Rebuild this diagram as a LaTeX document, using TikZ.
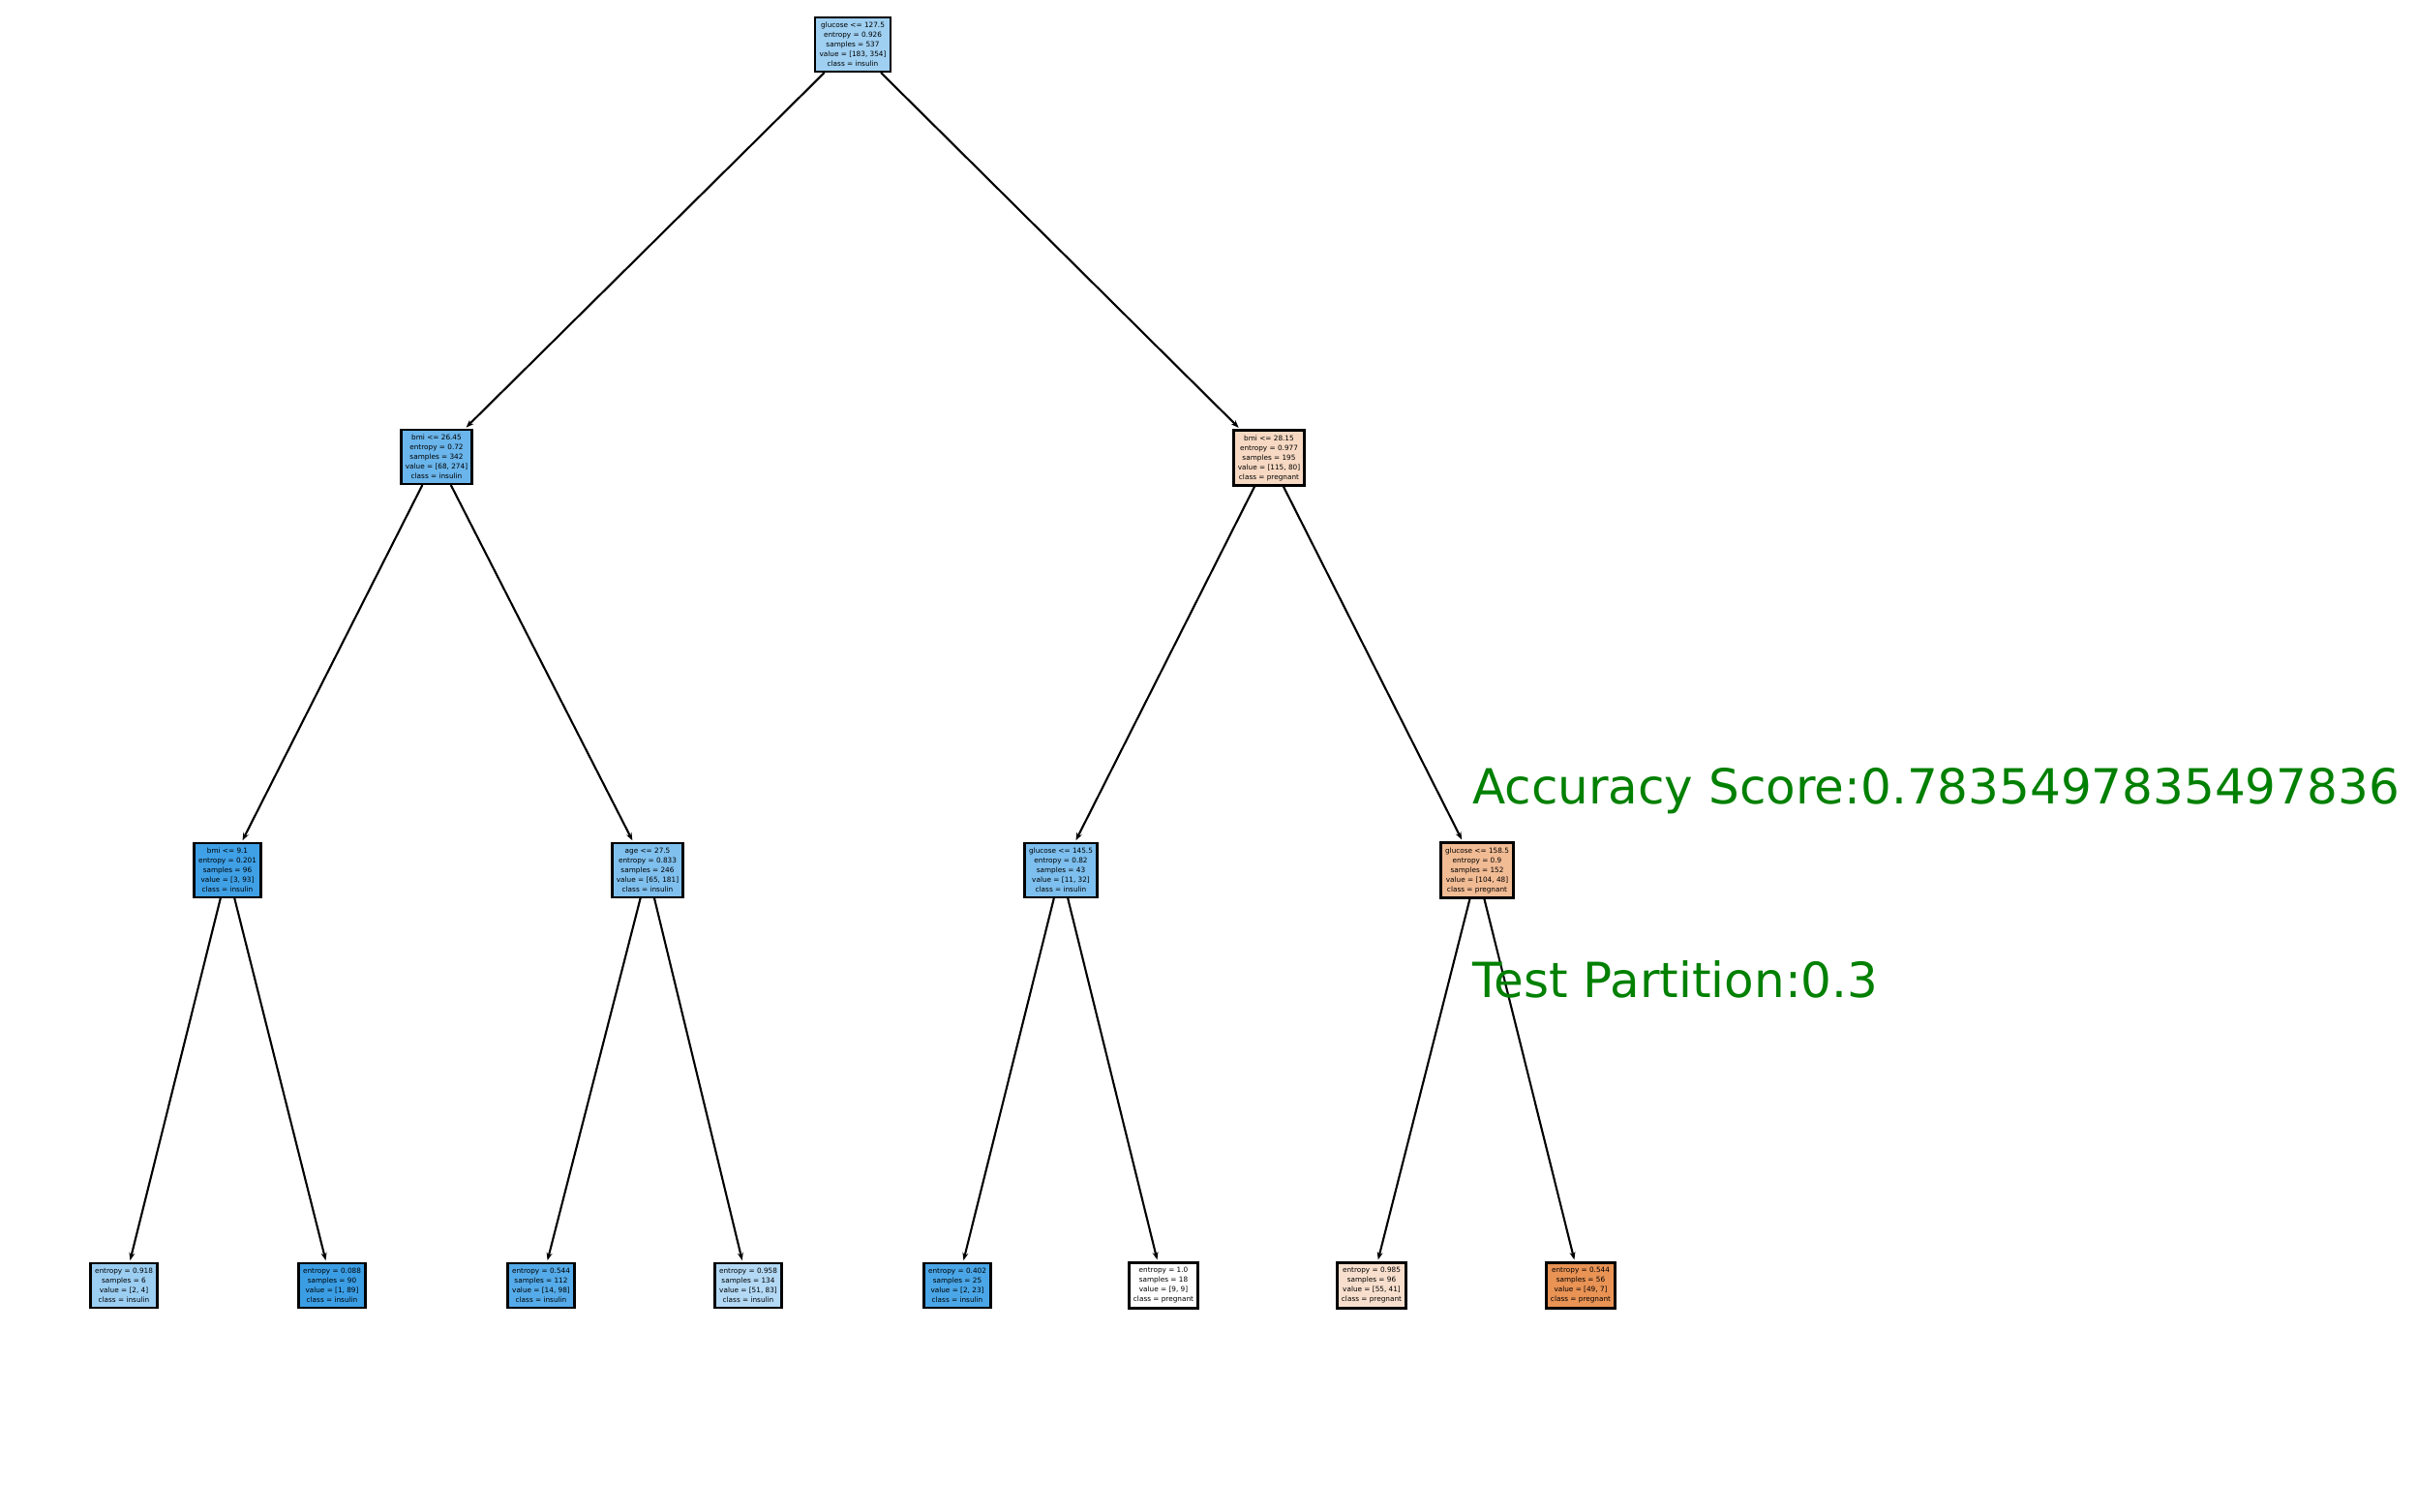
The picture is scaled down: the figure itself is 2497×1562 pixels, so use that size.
\documentclass[tikz,border=0pt]{standalone}
\usepackage{fontspec}
\setmainfont{DejaVu Sans}
\usetikzlibrary{arrows.meta}
% node fill colours (orange = pregnant, blue = insulin)
\definecolor{cR}{RGB}{159,208,242}
\definecolor{cA}{RGB}{106,181,235}
\definecolor{cB}{RGB}{247,217,195}
\definecolor{cAA}{RGB}{63,160,230}
\definecolor{cAB}{RGB}{128,192,238}
\definecolor{cBA}{RGB}{125,191,238}
\definecolor{cBB}{RGB}{241,187,148}
\definecolor{cL1}{RGB}{156,206,242}
\definecolor{cL2}{RGB}{59,158,229}
\definecolor{cL3}{RGB}{85,171,233}
\definecolor{cL4}{RGB}{179,217,245}
\definecolor{cL5}{RGB}{74,166,231}
\definecolor{cL6}{RGB}{255,255,255}
\definecolor{cL7}{RGB}{248,223,205}
\definecolor{cL8}{RGB}{233,147,85}
\definecolor{scoregreen}{RGB}{0,128,0}
\begin{document}
\begin{tikzpicture}[x=1pt,y=-1pt,
  treenode/.style={draw=black, line width=2.4pt, align=center,
    inner xsep=4.5pt, inner ysep=5pt, font=\fontsize{7.3}{10}\selectfont},
  edge/.style={line width=2.1pt, -{Stealth[length=8pt,width=6pt]}, shorten >=2pt},
  score/.style={anchor=base west, inner sep=0pt, text=scoregreen,
    font=\fontsize{50}{60}\selectfont}]
\useasboundingbox[fill=white] (0,0) rectangle (2497,1562);

% root
\node[treenode, fill=cR] (r) at (881,46)
  {glucose <= 127.5\\entropy = 0.926\\samples = 537\\value = [183, 354]\\class = insulin};

% depth 1
\node[treenode, fill=cA] (a) at (451,472)
  {bmi <= 26.45\\entropy = 0.72\\samples = 342\\value = [68, 274]\\class = insulin};
\node[treenode, fill=cB] (b) at (1311,473)
  {bmi <= 28.15\\entropy = 0.977\\samples = 195\\value = [115, 80]\\class = pregnant};

% depth 2
\node[treenode, fill=cAA] (aa) at (235,899)
  {bmi <= 9.1\\entropy = 0.201\\samples = 96\\value = [3, 93]\\class = insulin};
\node[treenode, fill=cAB] (ab) at (669,899)
  {age <= 27.5\\entropy = 0.833\\samples = 246\\value = [65, 181]\\class = insulin};
\node[treenode, fill=cBA] (ba) at (1096,899)
  {glucose <= 145.5\\entropy = 0.82\\samples = 43\\value = [11, 32]\\class = insulin};
\node[treenode, fill=cBB] (bb) at (1526,899)
  {glucose <= 158.5\\entropy = 0.9\\samples = 152\\value = [104, 48]\\class = pregnant};

% leaves
\node[treenode, fill=cL1] (l1) at (128,1328)
  {entropy = 0.918\\samples = 6\\value = [2, 4]\\class = insulin};
\node[treenode, fill=cL2] (l2) at (343,1328)
  {entropy = 0.088\\samples = 90\\value = [1, 89]\\class = insulin};
\node[treenode, fill=cL3] (l3) at (559,1328)
  {entropy = 0.544\\samples = 112\\value = [14, 98]\\class = insulin};
\node[treenode, fill=cL4] (l4) at (773,1328)
  {entropy = 0.958\\samples = 134\\value = [51, 83]\\class = insulin};
\node[treenode, fill=cL5] (l5) at (989,1328)
  {entropy = 0.402\\samples = 25\\value = [2, 23]\\class = insulin};
\node[treenode, fill=cL6] (l6) at (1202,1328)
  {entropy = 1.0\\samples = 18\\value = [9, 9]\\class = pregnant};
\node[treenode, fill=cL7] (l7) at (1417,1328)
  {entropy = 0.985\\samples = 96\\value = [55, 41]\\class = pregnant};
\node[treenode, fill=cL8] (l8) at (1633,1328)
  {entropy = 0.544\\samples = 56\\value = [49, 7]\\class = pregnant};

% connectors
\draw[edge] (r) -- (a);
\draw[edge] (r) -- (b);
\draw[edge] (a) -- (aa);
\draw[edge] (a) -- (ab);
\draw[edge] (b) -- (ba);
\draw[edge] (b) -- (bb);
\draw[edge] (aa) -- (l1);
\draw[edge] (aa) -- (l2);
\draw[edge] (ab) -- (l3);
\draw[edge] (ab) -- (l4);
\draw[edge] (ba) -- (l5);
\draw[edge] (ba) -- (l6);
\draw[edge] (bb) -- (l7);
\draw[edge] (bb) -- (l8);

% score annotations
\node[score] (acc) at (1521,830) {Accuracy Score:0.7835497835497836};
\node[score] (part) at (1521,1030) {Test Partition:0.3};
\end{tikzpicture}
\end{document}
